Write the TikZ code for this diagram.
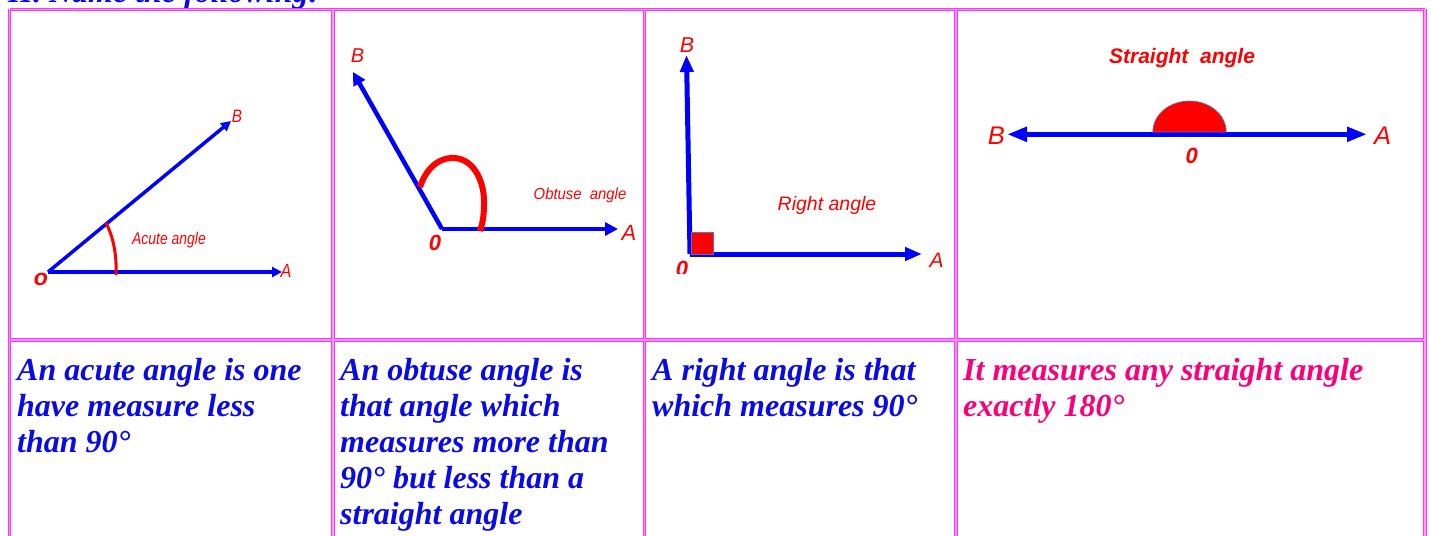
\documentclass[tikz,border=0pt]{standalone}
\usepackage{fontspec}
\setmainfont{Liberation Serif}
\newfontfamily\lsans{Liberation Sans}
\usetikzlibrary{arrows.meta}
\definecolor{mag}{RGB}{255,50,255}
\definecolor{magl}{RGB}{255,150,255}
\definecolor{tblue}{RGB}{10,10,230}
\definecolor{tpink}{RGB}{250,0,125}
\definecolor{dblue}{RGB}{0,0,255}
\definecolor{dred}{RGB}{255,0,0}
\definecolor{edgeg}{RGB}{110,110,150}
\begin{document}
\begin{tikzpicture}[x=1pt,y=-1pt,
  gridline/.style={draw=mag, line width=3.6pt},
  gridlight/.style={draw=magl, line width=1.1pt},
  body/.style={anchor=base west, inner sep=0pt, text=tblue, font=\fontsize{32}{36}\selectfont\bfseries\itshape},
  pbody/.style={body, text=tpink},
  lab/.style={inner sep=0pt, text=dred},
  ray/.style={draw=dblue},
]
\useasboundingbox (0,0) rectangle (1431,535);
\begin{scope}
\clip (0,0) rectangle (1431,535);
% heading (cut off at top)
\node[body] (head) at (8,3) {II. Name the following:};
% grid
\foreach \s in {gridline,gridlight}{
  \draw[\s] (9.5,9.5) -- (1425,9.5);
  \draw[\s] (9.5,340) -- (1425,340);
  \draw[\s] (9.5,9.5) -- (9.5,560);
  \draw[\s] (333,9.5) -- (333,560);
  \draw[\s] (644.5,9.5) -- (644.5,560);
  \draw[\s] (956,9.5) -- (956,560);
  \draw[\s] (1425,9.5) -- (1425,560);
}
% ---------- panel 1: acute
\coordinate (o1) at (48,272);
\coordinate (a1) at (282,272);
\coordinate (b1) at (231,121);
\draw[ray, line width=3.5pt, -{Triangle[length=10pt,width=10pt]}] (o1) -- (a1);
\draw[ray, line width=3.5pt, -{Triangle[length=10pt,width=10pt]}] (o1) -- (b1);
\draw[dred, line width=3pt] (106,223) .. controls (113,236) and (117,255) .. (116,275);
\node[lab, font=\lsans\itshape\fontsize{17}{17}\selectfont] (acl) at (169,240) {\scalebox{0.82}[1]{Acute angle}};
\node[lab, font=\lsans\itshape\fontsize{18}{18}\selectfont] (b1l) at (237,116) {\scalebox{0.85}[1]{B}};
\node[lab, font=\lsans\itshape\fontsize{19}{19}\selectfont] (a1l) at (286,271) {\scalebox{0.85}[1]{A}};
\node[lab, font=\lsans\bfseries\itshape\fontsize{23}{23}\selectfont] (o1l) at (41,279) {o};
% ---------- panel 2: obtuse
\coordinate (o2) at (442,229);
\coordinate (a2) at (618,229);
\coordinate (b2) at (353,72);
\draw[ray, line width=4.5pt, -{Triangle[length=13pt,width=13pt]}] (o2) -- (a2);
\draw[ray, line width=4.5pt, -{Triangle[length=13pt,width=13pt]}] (o2) -- (b2);
\draw[dred, line width=6pt] (420,187) .. controls (428,163) and (444,157) .. (455,158)
   .. controls (476,160) and (485,185) .. (484,205) .. controls (484,217) and (482,225) .. (480,231);
\node[lab, font=\lsans\itshape\fontsize{16}{16}\selectfont] (obl) at (580,195) {\scalebox{0.93}[1]{Obtuse~ angle}};
\node[lab, font=\lsans\itshape\fontsize{20}{20}\selectfont] (b2l) at (357.5,55.5) {B};
\node[lab, font=\lsans\itshape\fontsize{22}{22}\selectfont] (a2l) at (629,233) {A};
\node[lab, font=\lsans\bfseries\itshape\fontsize{22}{22}\selectfont] (o2l) at (435,243) {0};
% ---------- panel 3: right
\coordinate (o3) at (690,254);
\coordinate (a3) at (922,254);
\coordinate (b3) at (686.5,55);
\draw[ray, line width=5pt, -{Triangle[length=17pt,width=13pt]}] (o3) -- (a3);
\draw[ray, line width=5pt, -{Triangle[length=17pt,width=13pt]}] (o3) -- (b3);
\draw[fill=dred, draw=edgeg, line width=0.5pt] (691,232) rectangle (713,254);
\node[lab, font=\lsans\itshape\fontsize{19.5}{19.5}\selectfont] (ril) at (827,205) {Right angle};
\node[lab, font=\lsans\itshape\fontsize{21.5}{21.5}\selectfont] (b3l) at (687,45) {B};
\node[lab, font=\lsans\itshape\fontsize{21}{21}\selectfont] (a3l) at (936.5,260) {A};
\begin{scope}
\clip (650,255) rectangle (940,273.5);
\node[lab, font=\lsans\bfseries\itshape\fontsize{22}{22}\selectfont] (o3l) at (682,269) {0};
\end{scope}
% ---------- panel 4: straight
\coordinate (b4) at (1007,134.3);
\coordinate (a4) at (1367,134.3);
\coordinate (c4) at (1189.5,132);
\draw[ray, line width=5pt, {Triangle[length=20pt,width=14pt]}-{Triangle[length=20pt,width=14pt]}] (b4) -- (a4);
\draw[fill=dred, draw=edgeg, line width=0.6pt] (1152.8,132) arc[start angle=180, end angle=360, x radius=36.7, y radius=31] -- cycle;
\node[lab, font=\lsans\bfseries\itshape\fontsize{21}{21}\selectfont] (stl) at (1182,57.7) {Straight~ angle};
\node[lab, font=\lsans\itshape\fontsize{25.5}{25.5}\selectfont] (b4l) at (996.3,135.8) {B};
\node[lab, font=\lsans\itshape\fontsize{25.5}{25.5}\selectfont] (a4l) at (1382.5,135.8) {A};
\node[lab, font=\lsans\bfseries\itshape\fontsize{22}{22}\selectfont] (o4l) at (1191.7,156.3) {0};
% ---------- text row
\node[body] (t11) at (17,380) {An acute angle is one};
\node[body] (t12) at (17,416) {have measure less};
\node[body] (t13) at (17,452) {than 90°};
\node[body] (t21) at (340,380) {An obtuse angle is};
\node[body] (t22) at (340,416) {that angle which};
\node[body] (t23) at (340,452) {measures more than};
\node[body] (t24) at (340,488) {90° but less than a};
\node[body] (t25) at (340,524) {straight angle};
\node[body] (t31) at (652,380) {A right angle is that};
\node[body] (t32) at (652,416) {which measures 90°};
\node[pbody] (t41) at (963,380) {It measures any straight angle};
\node[pbody] (t42) at (963,416) {exactly 180°};
\end{scope}
\end{tikzpicture}
\end{document}
